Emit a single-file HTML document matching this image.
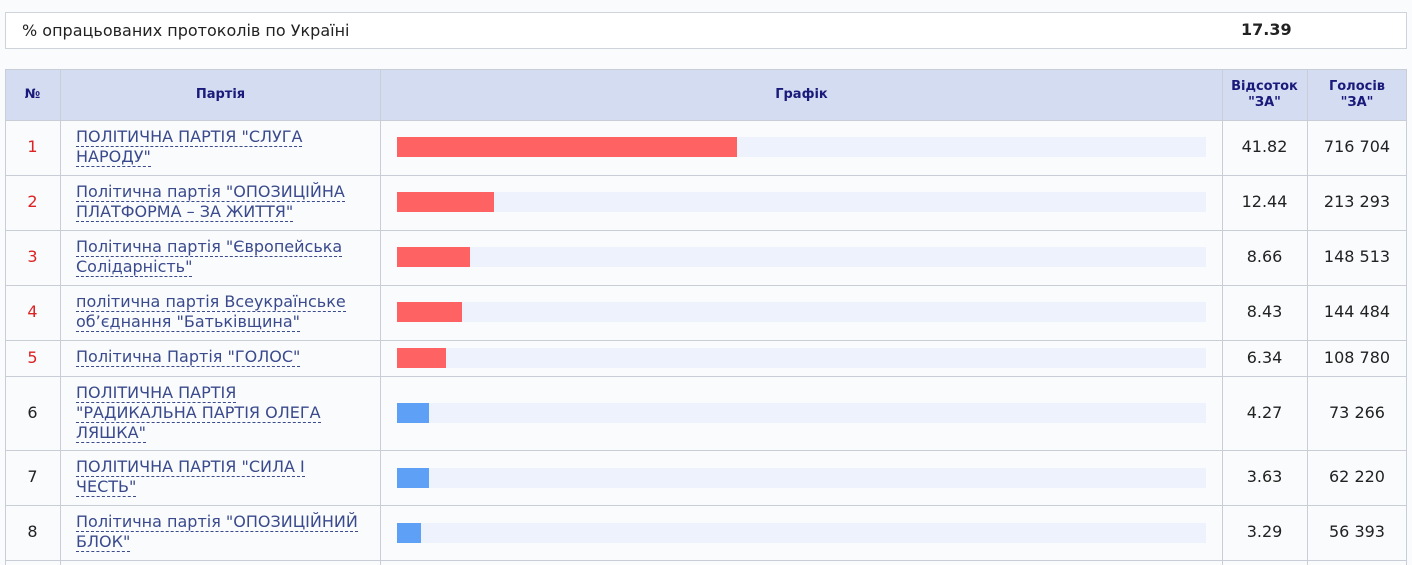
<!DOCTYPE html>
<html><head><meta charset="utf-8"><style>
body{margin:0;width:1412px;height:565px;background:#f9fbfd;font-family:"DejaVu Sans",Verdana,sans-serif;font-size:16px;color:#222;position:relative;overflow:hidden}
.a{position:absolute;box-sizing:border-box}
.top{left:5px;top:12px;width:1402px;height:37px;border:1px solid #cfd4da;background:#fff}
.hd{background:#d4dcf2;color:#1a1a7a;font-weight:bold;font-size:13px;text-align:center}
.vl{width:1px;background:#c9ced6}
.hl{height:1px;background:#c9ced6;left:5px;width:1402px}
.num{left:5px;width:55px;text-align:center}
.nm{left:76px;width:300px;line-height:20px;color:#3a4a8c}
.nm span{border-bottom:1px dashed #3a4a8c}
.tr{left:397px;width:809px;height:20px;background:#edf2fc}
.b{left:397px;height:20px}
.pc{left:1222px;width:85px;text-align:center}
.vt{left:1307px;width:100px;text-align:center}
</style></head><body>
<div class="a top"></div>
<div class="a" style="left:22px;top:21px">% опрацьованих протоколів по Україні</div>
<div class="a" style="left:1241px;top:20px;font-weight:bold;font-size:16px">17.39</div>

<div class="a hd" style="left:5px;top:69px;width:1402px;height:51px"></div>
<div class="a" style="left:5px;top:69px;width:1402px;height:496px;border:1px solid #c9ced6;border-bottom:none"></div>
<div class="a hd" style="left:5px;top:87px;width:55px;background:none">№</div>
<div class="a hd" style="left:60px;top:87px;width:321px;background:none">Партія</div>
<div class="a hd" style="left:381px;top:87px;width:841px;background:none">Графік</div>
<div class="a hd" style="left:1222px;top:79px;width:85px;background:none;line-height:16px">Відсоток<br>"ЗА"</div>
<div class="a hd" style="left:1307px;top:79px;width:100px;background:none;line-height:16px">Голосів<br>"ЗА"</div>
<div class="a vl" style="left:60px;top:69px;height:496px"></div>
<div class="a vl" style="left:380px;top:69px;height:496px"></div>
<div class="a vl" style="left:1222px;top:69px;height:496px"></div>
<div class="a vl" style="left:1307px;top:69px;height:496px"></div>
<div class="a hl" style="top:120px"></div><div class="a hl" style="top:175px"></div><div class="a hl" style="top:230px"></div><div class="a hl" style="top:285px"></div><div class="a hl" style="top:340px"></div><div class="a hl" style="top:376px"></div><div class="a hl" style="top:450px"></div><div class="a hl" style="top:505px"></div><div class="a hl" style="top:560px"></div>

<div class="a num" style="top:137px;color:#d22">1</div>
<div class="a nm" style="top:127px"><span>ПОЛІТИЧНА ПАРТІЯ "СЛУГА</span><br><span>НАРОДУ"</span></div>
<div class="a tr" style="top:137px"></div><div class="a b" style="top:137px;width:340px;background:#ff6262"></div>
<div class="a pc" style="top:137px">41.82</div><div class="a vt" style="top:137px">716 704</div>

<div class="a num" style="top:192px;color:#d22">2</div>
<div class="a nm" style="top:182px"><span>Політична партія "ОПОЗИЦІЙНА</span><br><span>ПЛАТФОРМА – ЗА ЖИТТЯ"</span></div>
<div class="a tr" style="top:192px"></div><div class="a b" style="top:192px;width:97px;background:#ff6262"></div>
<div class="a pc" style="top:192px">12.44</div><div class="a vt" style="top:192px">213 293</div>

<div class="a num" style="top:247px;color:#d22">3</div>
<div class="a nm" style="top:237px"><span>Політична партія "Європейська</span><br><span>Солідарність"</span></div>
<div class="a tr" style="top:247px"></div><div class="a b" style="top:247px;width:73px;background:#ff6262"></div>
<div class="a pc" style="top:247px">8.66</div><div class="a vt" style="top:247px">148 513</div>

<div class="a num" style="top:302px;color:#d22">4</div>
<div class="a nm" style="top:292px"><span>політична партія Всеукраїнське</span><br><span>об’єднання "Батьківщина"</span></div>
<div class="a tr" style="top:302px"></div><div class="a b" style="top:302px;width:65px;background:#ff6262"></div>
<div class="a pc" style="top:302px">8.43</div><div class="a vt" style="top:302px">144 484</div>

<div class="a num" style="top:348px;color:#d22">5</div>
<div class="a nm" style="top:347px"><span>Політична Партія "ГОЛОС"</span></div>
<div class="a tr" style="top:348px"></div><div class="a b" style="top:348px;width:49px;background:#ff6262"></div>
<div class="a pc" style="top:348px">6.34</div><div class="a vt" style="top:348px">108 780</div>

<div class="a num" style="top:403px">6</div>
<div class="a nm" style="top:383px"><span>ПОЛІТИЧНА ПАРТІЯ</span><br><span>"РАДИКАЛЬНА ПАРТІЯ ОЛЕГА</span><br><span>ЛЯШКА"</span></div>
<div class="a tr" style="top:403px"></div><div class="a b" style="top:403px;width:32px;background:#5fa0f7"></div>
<div class="a pc" style="top:403px">4.27</div><div class="a vt" style="top:403px">73 266</div>

<div class="a num" style="top:467px">7</div>
<div class="a nm" style="top:457px"><span>ПОЛІТИЧНА ПАРТІЯ "СИЛА І</span><br><span>ЧЕСТЬ"</span></div>
<div class="a tr" style="top:468px"></div><div class="a b" style="top:468px;width:32px;background:#5fa0f7"></div>
<div class="a pc" style="top:467px">3.63</div><div class="a vt" style="top:467px">62 220</div>

<div class="a num" style="top:522px">8</div>
<div class="a nm" style="top:512px"><span>Політична партія "ОПОЗИЦІЙНИЙ</span><br><span>БЛОК"</span></div>
<div class="a tr" style="top:523px"></div><div class="a b" style="top:523px;width:24px;background:#5fa0f7"></div>
<div class="a pc" style="top:522px">3.29</div><div class="a vt" style="top:522px">56 393</div>
</body></html>
